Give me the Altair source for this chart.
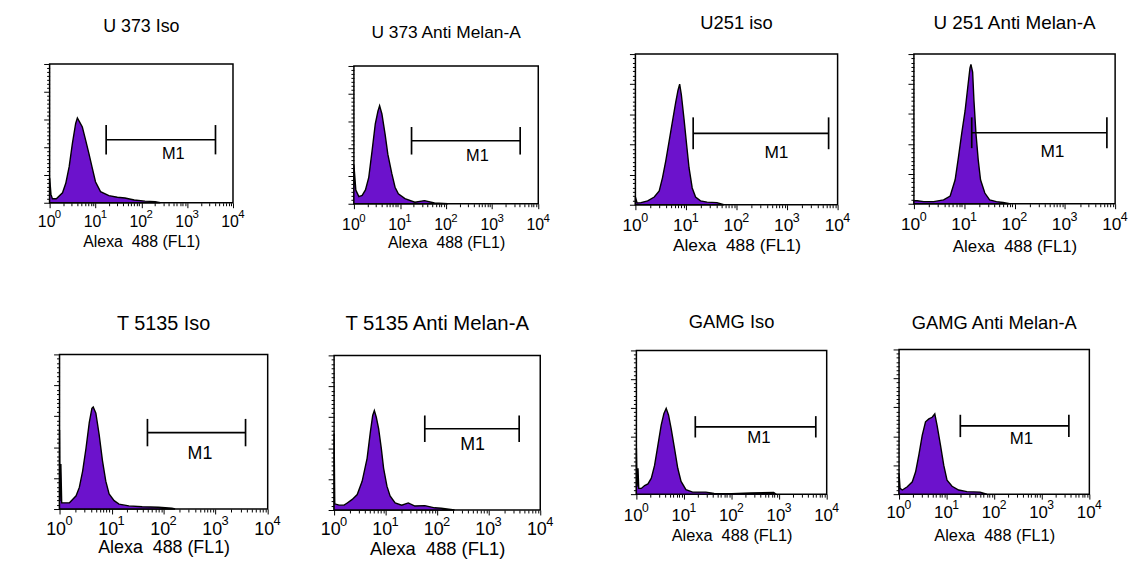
import altair as alt
import pandas as pd

FONT = "Liberation Sans"
PURPLE = "#6C12CC"

TITLES = ["U 373 Iso", "U 373 Anti Melan-A", "U251 iso", "U 251 Anti Melan-A",
          "T 5135 Iso", "T 5135 Anti Melan-A", "GAMG Iso", "GAMG Anti Melan-A"]
AXIS_TITLE = "Alexa\u00a0 488 (FL1)"

# FL1 intensity (x) and event counts (n) for every histogram
p1_x = [1.0, 1.07, 1.15, 1.4, 1.91, 2.25, 2.67, 3.14, 3.7, 4.03, 4.4, 5.17, 6.1, 7.2, 8.5, 10, 12.9, 19.6, 30, 44, 70, 120, 200, 260]
p1_n = [63, 21, 10, 10, 25, 49, 91, 150, 200, 214, 206, 191, 158, 124, 88, 53, 28, 18, 14, 12, 7, 4, 3, 0]

p2_x = [1.0, 1.1, 1.28, 1.51, 1.78, 2.10, 2.47, 2.91, 3.32, 3.61, 4.05, 4.77, 5.44, 6.63, 7.81, 9.2, 12.8, 21, 34, 56, 109]
p2_n = [98, 35, 18, 21, 35, 67, 133, 203, 235, 249, 228, 175, 126, 77, 42, 25, 13, 4, 8, 2, 0]

p3_x = [1.0, 1.08, 1.29, 1.75, 2.36, 2.96, 3.44, 3.99, 4.64, 5.40, 6.27, 6.97, 7.51, 8.10, 9.14, 10.3, 11.5, 13.3, 15.5, 19.4, 26.2, 41, 56]
p3_n = [18, 4, 5, 9, 18, 32, 63, 102, 147, 193, 238, 266, 280, 256, 200, 140, 86, 39, 18, 9, 6, 5, 0]

p4_x = [1.0, 1.16, 1.57, 2.47, 3.89, 5.26, 6.6, 7.68, 8.93, 10.4, 11.7, 13.0, 13.6, 14.7, 15.6, 17.1, 19.0, 21.1, 25.7, 32, 43.6, 59, 80]
p4_n = [7, 7, 5, 5, 9, 18, 56, 109, 165, 217, 270, 317, 326, 308, 242, 165, 102, 56, 25, 9, 5, 3, 0]

p5_x = [1.0, 1.02, 1.06, 1.1, 1.34, 1.55, 1.80, 2.08, 2.40, 2.78, 3.22, 3.73, 4.19, 4.44, 4.99, 5.78, 6.69, 7.74, 8.96, 11.2, 13.9, 21.5, 38.7, 80, 144, 166]
p5_n = [179, 18, 102, 14, 14, 14, 22, 30, 49, 86, 137, 196, 228, 231, 217, 168, 109, 63, 34, 19, 11, 7, 5, 4, 2, 0]

p6_x = [1.0, 1.03, 1.25, 1.56, 1.80, 2.25, 2.81, 3.50, 4.37, 5.06, 5.61, 6.04, 6.59, 7.31, 8.23, 9.12, 10.6, 12.2, 15.3, 20.5, 27.5, 37, 57.5, 89.5, 120, 217]
p6_n = [173, 14, 11, 11, 16, 24, 35, 65, 117, 177, 214, 225, 210, 184, 140, 95, 54, 32, 16, 11, 16, 9, 10, 5, 4, 0]

p7_x = [1.0, 1.03, 1.08, 1.12, 1.27, 1.49, 1.75, 2.06, 2.41, 2.83, 3.32, 3.78, 4.23, 4.73, 5.37, 6.31, 7.41, 8.69, 11.0, 15.2, 28.9, 43, 100, 251, 771, 850]
p7_n = [112, 18, 63, 14, 14, 21, 25, 39, 70, 119, 168, 196, 209, 193, 160, 112, 63, 31, 11, 5, 5, 2, 1, 3, 4, 0]

p8_x = [1.0, 1.05, 1.17, 1.49, 1.90, 2.23, 2.61, 3.07, 3.60, 4.23, 4.96, 5.64, 6.31, 7.41, 8.69, 10.2, 13.0, 17.9, 26.7, 50.6, 69.7]
p8_n = [50, 14, 10, 18, 30, 54, 95, 142, 175, 182, 186, 194, 166, 119, 70, 34, 19, 10, 6, 5, 0]

HIST_X = [p1_x, p2_x, p3_x, p4_x, p5_x, p6_x, p7_x, p8_x]
HIST_N = [p1_n, p2_n, p3_n, p4_n, p5_n, p6_n, p7_n, p8_n]

# M1 marker: gate bounds (FL1), bar level and end-tick extent (counts), label position
m1_start = [17.1, 17.8, 13.9, 14.1, 48.9, 57.5, 17.3, 19.4]
m1_end = [4150, 4050, 6640, 6860, 3755, 3900, 5900, 3710]
m1_level = [159, 160, 166, 166, 173, 184, 164, 165]
m1_low = [122, 125, 129, 130, 142, 154, 138, 138]
m1_high = [196, 195, 203, 202, 204, 214, 190, 192]
m1_label_x = [500, 478, 617, 568, 500, 488, 375, 375]
m1_label_y = [122, 122, 119, 121, 124, 147, 137, 134]

# x axis: decades 10^0 .. 10^4 with minor ticks
DECADES = [1, 10, 100, 1000, 10000]
EXPONENTS = ["0", "1", "2", "3", "4"]
X_TICKS = [m * 10 ** d for d in range(4) for m in range(1, 10)] + [10000]
Y_TICKS = list(range(0, 351, 10))

label_expr = "indexof([1, 10, 100, 1000, 10000], datum.value) >= 0 ? '10' : ''"
minor_test = "indexof([1, 10, 100, 1000, 10000], datum.value) < 0"

# per panel: plot width, height, frame (left, right, top, bottom margins),
# title size, title baseline above plot, tick label size, tick label baseline,
# axis title size, axis title baseline, M1 size
STYLE = [
    (185, 140, 38, 60, 50, 91, 18, 31, 16, 23.7, 16, 43.7, 16.5),
    (186, 139, 60, 48, 52, 90, 17.5, 27, 16, 26, 16, 44, 16.5),
    (204, 152, 48, 39, 39, 90, 18.5, 24, 17.5, 26, 17.5, 46, 17.5),
    (203, 151, 36, 13, 40, 90, 19, 24, 17.5, 26, 17, 48, 17.5),
    (210, 156, 48, 33, 56, 55, 20, 24, 18, 25.3, 18, 43.7, 18),
    (208, 156, 32, 48, 57, 54, 20.5, 25, 18, 25, 18.5, 45, 18),
    (192, 145, 47, 35, 52, 70, 18.5, 22, 17, 26.6, 16.5, 47, 17),
    (192, 146, 36, 39, 51, 70, 18.5, 20, 17, 23.7, 16.5, 46.3, 17),
]


def spacer():
    return alt.Chart(pd.DataFrame({"v": [0]})).mark_rect(opacity=0).encode(
        x=alt.value(0), x2=alt.value(1), y=alt.value(0), y2=alt.value(1)
    ).properties(width=1, height=1, view=alt.ViewBackground(stroke="transparent"))


def panel(i):
    w, h, fl, fr, ft, fb, ts, to, ls, lp, ats, aty, ms = STYLE[i]
    xs = alt.Scale(type="log", domain=[1, 10000])
    ys = alt.Scale(domain=[0, 350])
    xaxis = alt.Axis(values=X_TICKS, labelExpr=label_expr, labelOverlap=False, labelFlush=False,
                     labelBaseline="alphabetic", labelPadding=lp - 5, labelFontSize=ls,
                     labelOffset=-0.22 * ls,
                     labelFont=FONT, labelColor="black", tickColor="black", tickWidth=1,
                     tickSize={"condition": {"test": minor_test, "value": 3}, "value": 5},
                     domain=False, grid=False, title=AXIS_TITLE, titleFont=FONT,
                     titleFontSize=ats, titleFontWeight="normal", titleColor="black",
                     titleBaseline="alphabetic", titleY=aty)
    yaxis = alt.Axis(values=Y_TICKS, labels=False, domain=False, grid=False, tickColor="black",
                     tickWidth=1,
                     tickSize={"condition": {"test": "datum.value % 70 != 0", "value": 3}, "value": 6},
                     title=None)
    X = lambda f: alt.X(f, scale=xs, axis=xaxis)
    Y = lambda f: alt.Y(f, scale=ys, axis=yaxis)

    frame = alt.Chart(pd.DataFrame({"v": [0]})).mark_rect(opacity=0).encode(
        x=alt.value(-fl), x2=alt.value(w + fr), y=alt.value(-ft), y2=alt.value(h + fb))

    hist = alt.Chart(pd.DataFrame({"x": HIST_X[i], "n": HIST_N[i]})).mark_area(
        color=PURPLE, stroke="black", strokeWidth=1.4, interpolate="linear"
    ).encode(x=X("x:Q"), y=Y("n:Q"))

    gate = pd.DataFrame({"a": [m1_start[i]], "b": [m1_end[i]], "lev": [m1_level[i]]})
    bar = alt.Chart(gate).mark_rule(color="black", strokeWidth=1.7).encode(
        x=X("a:Q"), x2="b:Q", y=Y("lev:Q"))
    ends = pd.DataFrame({"e": [m1_start[i], m1_end[i]], "lo": [m1_low[i]] * 2, "hi": [m1_high[i]] * 2})
    tick = alt.Chart(ends).mark_rule(color="black", strokeWidth=1.7).encode(
        x=X("e:Q"), y=Y("lo:Q"), y2="hi:Q")
    lab = alt.Chart(pd.DataFrame({"lx": [m1_label_x[i]], "ly": [m1_label_y[i]], "t": ["M1"]})).mark_text(
        font=FONT, fontSize=ms, color="black", baseline="middle", align="center"
    ).encode(x=X("lx:Q"), y=Y("ly:Q"), text="t:N")

    # exponents of the decade labels
    sup = alt.Chart(pd.DataFrame({"d": DECADES, "e": EXPONENTS})).mark_text(
        font=FONT, fontSize=0.72 * ls, color="black", baseline="alphabetic", align="left",
        dx=0.33 * ls
    ).encode(x=X("d:Q"), y=alt.value(h + lp - 0.5 * ls), text="e:N")

    ch = alt.layer(frame, hist, bar, tick, lab, sup).properties(
        width=w, height=h,
        title=alt.TitleParams(TITLES[i], font=FONT, fontSize=ts, fontWeight="normal", color="black",
                              anchor="middle", baseline="alphabetic", offset=0,
                              dy=ft - to + 0.95 * ts, frame="group"))
    return alt.vconcat(spacer(), ch, spacing=0)


row1 = alt.hconcat(spacer(), panel(0), panel(1), panel(2), panel(3), spacing=0)
row2 = alt.hconcat(spacer(), panel(4), panel(5), panel(6), panel(7), spacing=0)

chart = alt.vconcat(row1, row2, spacing=0).properties(
    padding=0, background="white"
).configure_view(stroke="black", strokeWidth=1.5)

chart.save("out.html", embed_options={"renderer": "svg", "actions": False})
